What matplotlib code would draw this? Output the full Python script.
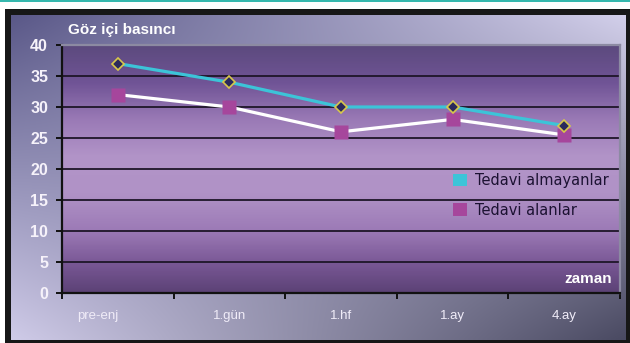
import numpy as np
import matplotlib
matplotlib.use("Agg")
import matplotlib.pyplot as plt
import matplotlib.transforms as mtransforms
from matplotlib.colors import LinearSegmentedColormap, to_rgb
from matplotlib.patches import Patch, Rectangle
from matplotlib.ticker import FixedLocator, NullFormatter

# veriler
zamanlar = ["pre-enj", "1.gün", "1.hf", "1.ay", "4.ay"]
tedavi_almayanlar = [37, 34, 30, 30, 27]
tedavi_alanlar = [32, 30, 26, 28, 25.5]
y_ticks = [0, 5, 10, 15, 20, 25, 30, 35, 40]

CYAN = "#3cc4d8"
MAGENTA = "#a6469c"
W, H = 630, 343

fig = plt.figure(figsize=(W / 100, H / 100), dpi=100)
fig.patch.set_facecolor("white")

# arka plan paneli: siyah çerçeve + çapraz degrade
bg = fig.add_axes([0, 0, 1, 1])
bg.axis("off")
bg.add_patch(Rectangle((0, 0), W, 2.2, color="#36b8ae", lw=0, zorder=1))
bg.add_patch(Rectangle((5, 9), W - 5, H - 9, color="#171717", lw=0, zorder=1))
gx, gy = np.meshgrid(np.linspace(0, 1, 240), np.linspace(0, 1, 140))
tl, tr, bl, br = (np.array(to_rgb(c)) for c in ("#5a5888", "#d2cfea", "#cfcbe8", "#4a4a62"))
grad = (((1 - gx) * (1 - gy))[..., None] * tl + (gx * (1 - gy))[..., None] * tr
        + ((1 - gx) * gy)[..., None] * bl + (gx * gy)[..., None] * br)
bg.imshow(grad, extent=(11, 626, 340, 15), aspect="auto", interpolation="bilinear", zorder=2)
bg.set_xlim(0, W)
bg.set_ylim(H, 0)

# grafik alanı
ax = fig.add_axes([62 / W, 50 / H, 558 / W, 248 / H])
x = np.arange(len(zamanlar))
ax.set_xlim(-0.5, len(zamanlar) - 0.5)
ax.set_ylim(0, 40)

dikey = LinearSegmentedColormap.from_list("mor", [
    (0.0, "#5c4276"), (0.12, "#7a5896"), (0.25, "#9c7ab6"), (0.4, "#b092c6"),
    (0.55, "#b294c8"), (0.7, "#9a7ab6"), (0.85, "#705496"), (1.0, "#5c4a7e")])
ax.imshow(np.linspace(1, 0, 200)[:, None], cmap=dikey, extent=(-0.5, 4.5, 0, 40),
          aspect="auto", zorder=0, interpolation="bilinear")

for yv in y_ticks[1:-1]:
    ax.axhline(yv, color="#1e1628", lw=1.3, zorder=1)

ax.plot(x, tedavi_alanlar, color="white", lw=2.3, marker="s", markersize=10,
        markerfacecolor=MAGENTA, markeredgecolor="none", zorder=3)
ax.plot(x, tedavi_almayanlar, color=CYAN, lw=2.3, marker="D", markersize=6.5,
        markerfacecolor="#2a2a5c", markeredgecolor="#d8c84a", markeredgewidth=1.2, zorder=4)

# eksenler
for s in ("left", "bottom"):
    ax.spines[s].set_color("#111111")
    ax.spines[s].set_linewidth(1.6)
for s in ("top", "right"):
    ax.spines[s].set_color("#8c8aa2")
    ax.spines[s].set_linewidth(1.6)

ax.set_yticks(y_ticks)
ax.tick_params(axis="y", direction="out", length=4, width=1.4, color="#111111", pad=6,
               labelcolor="#f6f2fa", labelsize=11.5)
for t in ax.get_yticklabels():
    t.set_fontfamily("Liberation Sans")
    t.set_fontweight("bold")

ax.xaxis.set_major_locator(FixedLocator(np.arange(-0.5, len(zamanlar), 1.0)))
ax.xaxis.set_major_formatter(NullFormatter())
ax.xaxis.set_minor_locator(FixedLocator(x))
ax.set_xticklabels(zamanlar, minor=True)
ax.tick_params(axis="x", which="major", direction="out", length=4, width=1.4, color="#111111")
ax.tick_params(axis="x", which="minor", length=0, pad=12, labelcolor="#f0ecf8", labelsize=9.5)
etiketler = ax.get_xticklabels(minor=True)
for t in etiketler:
    t.set_fontfamily("Liberation Sans")
etiketler[0].set_transform(etiketler[0].get_transform()
                           + mtransforms.ScaledTranslation(-0.2, 0, fig.dpi_scale_trans))

ax.text(0.986, 0.056, "zaman", transform=ax.transAxes, ha="right", va="center",
        color="white", fontsize=11, fontweight="bold", family="Liberation Sans", zorder=5)
fig.text(68 / W, 1 - 30 / H, "Göz içi basıncı", ha="left", va="center",
         color="white", fontsize=11, fontweight="bold", family="Liberation Sans")

ax.legend([Patch(facecolor=CYAN, edgecolor="none"), Patch(facecolor=MAGENTA, edgecolor="none")],
          ["Tedavi almayanlar", "Tedavi alanlar"], loc="upper left",
          bbox_to_anchor=(0.7007, 0.484), frameon=False, borderpad=0, borderaxespad=0,
          handlelength=0.95, handleheight=0.95, handletextpad=0.55, labelspacing=1.0,
          prop={"family": "DejaVu Sans", "size": 10.5}, labelcolor="#1c1232")

fig.savefig("out.png", dpi=100)
